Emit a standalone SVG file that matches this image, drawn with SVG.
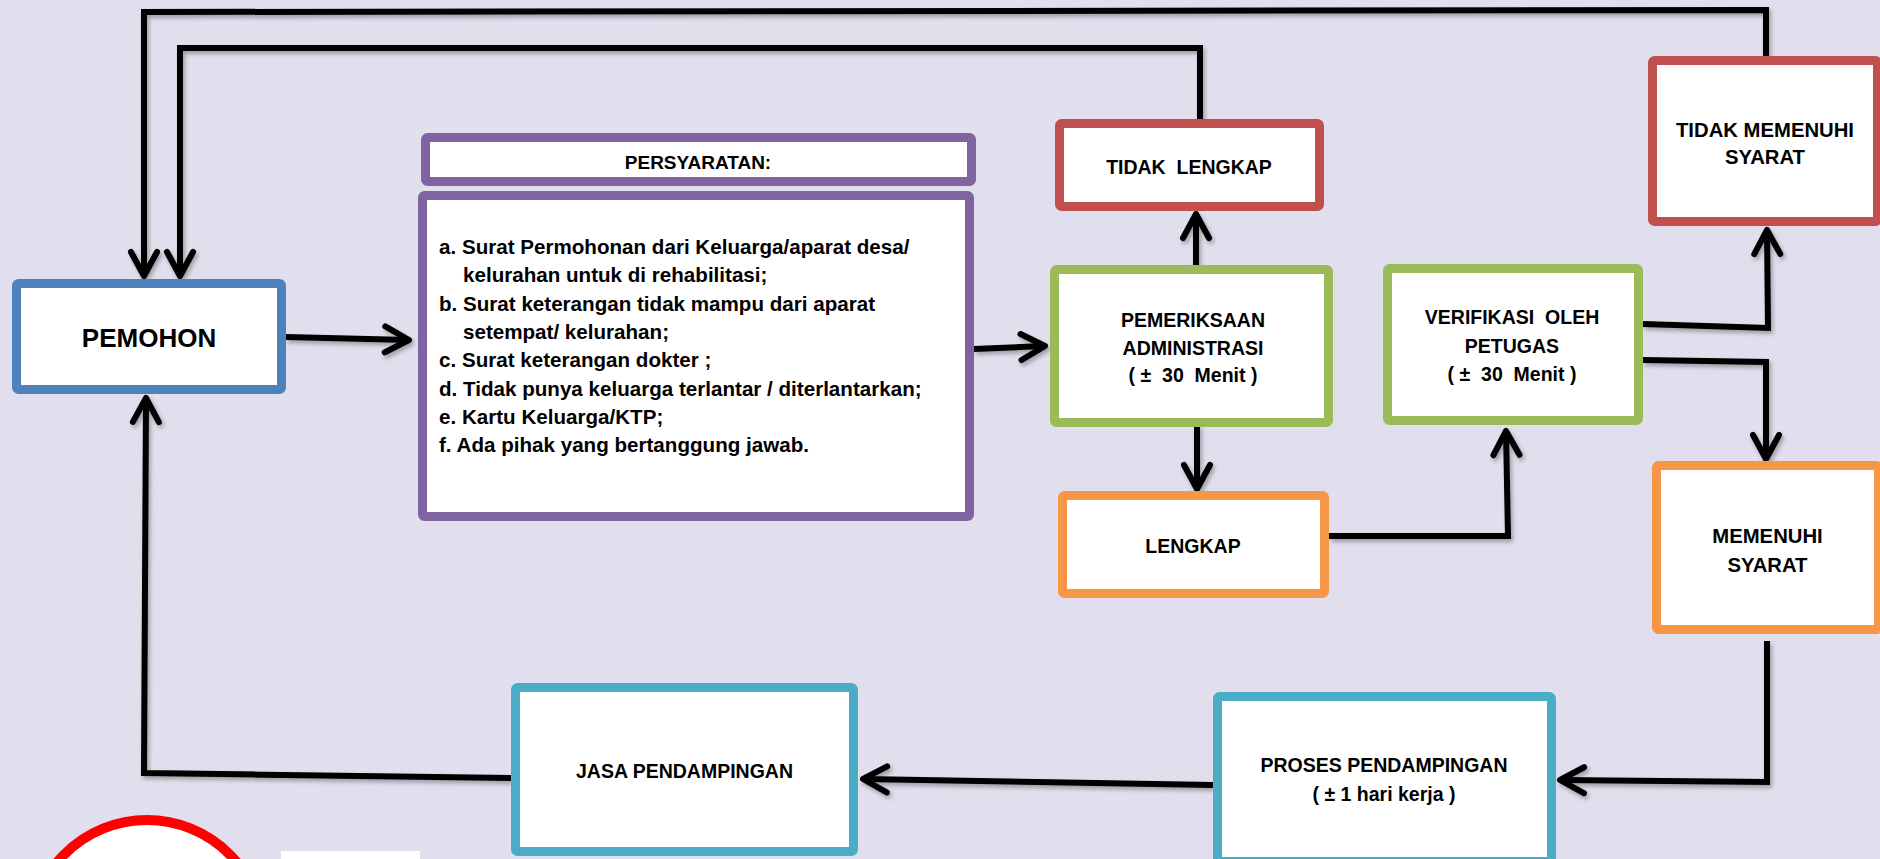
<svg xmlns="http://www.w3.org/2000/svg" width="1880" height="859" viewBox="0 0 1880 859">
<style>
.box{fill:#fff;stroke-width:9}
.blue{stroke:#4F81BD}
.purple{stroke:#8064A2}
.red{stroke:#C0504D}
.green{stroke:#9BBB59}
.orange{stroke:#F79646}
.teal{stroke:#4BACC6}
text{font-family:"Liberation Sans",Arial,sans-serif;font-weight:bold;fill:#000}
.lbl{font-size:19.5px;text-anchor:middle;white-space:pre}
.big{font-size:20.3px}
.req{font-size:20.6px;white-space:pre}
.conn{fill:none;stroke:#000;stroke-width:6;stroke-linejoin:miter;marker-end:url(#arr)}
</style>
<defs>
<marker id="arr" markerUnits="userSpaceOnUse" orient="auto" refX="0" refY="0" markerWidth="40" markerHeight="40" overflow="visible">
<path d="M -24 -13 L 0 0 L -24 13" fill="none" stroke="#000" stroke-width="6" stroke-linecap="round" stroke-linejoin="round"/>
</marker>
<filter id="sh" x="-10%" y="-10%" width="120%" height="120%">
<feDropShadow dx="2" dy="3" stdDeviation="2" flood-color="#000" flood-opacity="0.3"/>
</filter>
</defs>
<rect x="0" y="0" width="1880" height="859" fill="#E1DFED"/>

<g id="connectors" filter="url(#sh)">
<path class="conn" d="M 286 337 L 409 340"/>
<path class="conn" d="M 974 349 L 1045 346"/>
<path class="conn" d="M 1196 272 L 1196 214"/>
<path class="conn" d="M 1197 425 L 1197 489"/>
<path class="conn" d="M 1329 536 L 1508 536 L 1506 431"/>
<path class="conn" d="M 1643 324 L 1768 328 L 1767 230"/>
<path class="conn" d="M 1643 360 L 1766 362 L 1766 459"/>
<path class="conn" d="M 1767 641 L 1767 782 L 1560 780"/>
<path class="conn" d="M 1213 785 L 863 779"/>
<path class="conn" d="M 511 778 L 144 773 L 146 398"/>
<path class="conn" d="M 1766 56 L 1766 10 L 144 12 L 144 276"/>
<path class="conn" d="M 1200 119 L 1200 48 L 180 48 L 180 276"/>
</g>

<g id="pemohon">
<rect class="box blue" x="16.5" y="283.5" width="265" height="106" rx="2"/>
<text class="lbl" x="149" y="347" style="font-size:26px">PEMOHON</text>
</g>

<g id="persyaratan-header">
<rect class="box purple" x="425.5" y="137.5" width="546" height="44" rx="2"/>
<text class="lbl" x="698" y="169" style="font-size:19px">PERSYARATAN:</text>
</g>

<g id="persyaratan-list">
<rect class="box purple" x="422.5" y="195.5" width="547" height="321" rx="2"/>
<text class="req" x="439" y="254">a. Surat Permohonan dari Keluarga/aparat desa/</text>
<text class="req" x="463" y="282">kelurahan untuk di rehabilitasi;</text>
<text class="req" x="439" y="311">b. Surat keterangan tidak mampu dari aparat</text>
<text class="req" x="463" y="339">setempat/ kelurahan;</text>
<text class="req" x="439" y="367">c. Surat keterangan dokter ;</text>
<text class="req" x="439" y="396">d. Tidak punya keluarga terlantar / diterlantarkan;</text>
<text class="req" x="439" y="424">e. Kartu Keluarga/KTP;</text>
<text class="req" x="439" y="452">f. Ada pihak yang bertanggung jawab.</text>
</g>

<g id="tidak-lengkap">
<rect class="box red" x="1059.5" y="123.5" width="260" height="83" rx="2"/>
<text class="lbl" x="1189" y="174">TIDAK  LENGKAP</text>
</g>

<g id="pemeriksaan">
<rect class="box green" x="1054.5" y="269.5" width="274" height="153" rx="2"/>
<text class="lbl" x="1193" y="327">PEMERIKSAAN</text>
<text class="lbl" x="1193" y="355">ADMINISTRASI</text>
<text class="lbl" x="1193" y="382">( ±  30  Menit )</text>
</g>

<g id="verifikasi">
<rect class="box green" x="1387.5" y="268.5" width="251" height="152" rx="2"/>
<text class="lbl" x="1512" y="324">VERIFIKASI  OLEH</text>
<text class="lbl" x="1512" y="353">PETUGAS</text>
<text class="lbl" x="1512" y="381">( ±  30  Menit )</text>
</g>

<g id="lengkap">
<rect class="box orange" x="1062.5" y="495.5" width="262" height="98" rx="2"/>
<text class="lbl" x="1193" y="553">LENGKAP</text>
</g>

<g id="tidak-memenuhi">
<rect class="box red" x="1652.5" y="60.5" width="225" height="161" rx="2"/>
<text class="lbl big" x="1765" y="137">TIDAK MEMENUHI</text>
<text class="lbl big" x="1765" y="164">SYARAT</text>
</g>

<g id="memenuhi">
<rect class="box orange" x="1656.5" y="465.5" width="222" height="164" rx="2"/>
<text class="lbl big" x="1767.5" y="543">MEMENUHI</text>
<text class="lbl big" x="1767.5" y="572">SYARAT</text>
</g>

<g id="proses">
<rect class="box teal" x="1217.5" y="696.5" width="334" height="165" rx="2"/>
<text class="lbl" x="1384" y="772">PROSES PENDAMPINGAN</text>
<text class="lbl" x="1384" y="801">( ± 1 hari kerja )</text>
</g>

<g id="jasa">
<rect class="box teal" x="515.5" y="687.5" width="338" height="164" rx="2"/>
<text class="lbl" x="684.5" y="778">JASA PENDAMPINGAN</text>
</g>

<g id="footer-shapes">
<ellipse cx="147" cy="940" rx="118" ry="120" fill="#fff" stroke="#FF0000" stroke-width="10"/>
<rect x="281" y="851" width="139" height="10" fill="#fff"/>
</g>
</svg>
